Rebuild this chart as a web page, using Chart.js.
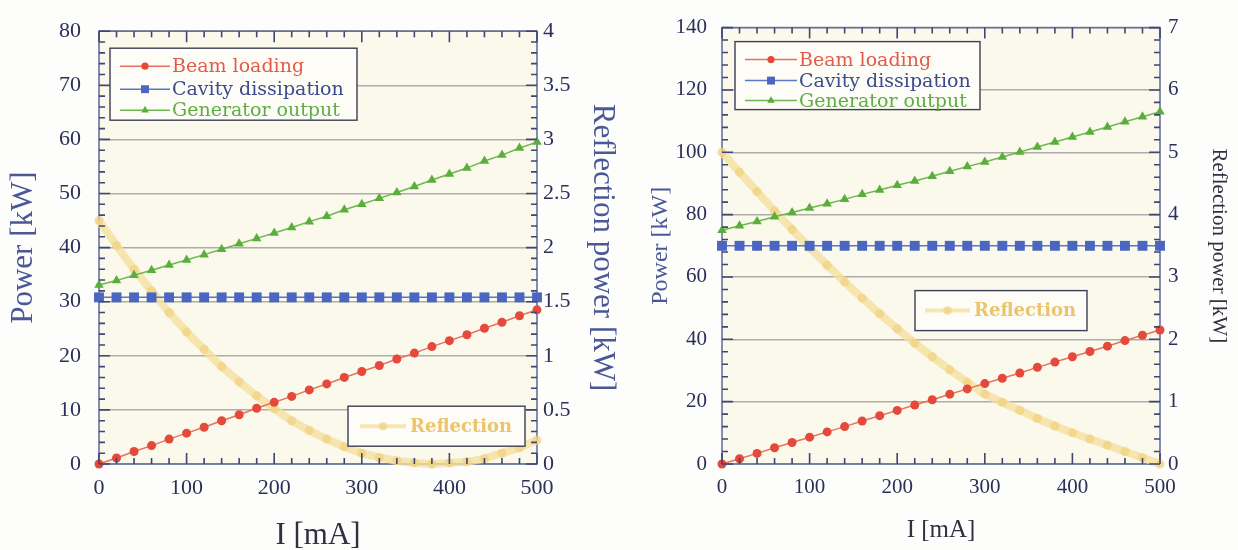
<!DOCTYPE html>
<html><head><meta charset="utf-8">
<script src="https://cdn.jsdelivr.net/npm/chart.js@4.4.1/dist/chart.umd.min.js"></script>
<style>
html,body{margin:0;padding:0;background:#fdfdfc;}
#wrap{position:relative;width:1238px;height:550px;overflow:hidden;}
#c1{position:absolute;left:0;top:0;}
#c2{position:absolute;left:640px;top:0;}
</style></head><body>
<div id="wrap"><canvas id="c1" width="640" height="550"></canvas><canvas id="c2" width="598" height="550"></canvas></div>
<script>
// ---- data ----
const current = [0,20,40,60,80,100,120,140,160,180,200,220,240,260,280,300,320,340,360,380,400,420,440,460,480,500];

// left panel
const beamLoadingL = [0,1.1,2.3,3.4,4.6,5.7,6.8,8.0,9.1,10.3,11.4,12.5,13.7,14.8,16.0,17.1,18.2,19.4,20.5,21.7,22.8,23.9,25.1,26.2,27.4,28.5];
const cavityL = [30.8,30.8,30.8,30.8,30.8,30.8,30.8,30.8,30.8,30.8,30.8,30.8,30.8,30.8,30.8,30.8,30.8,30.8,30.8,30.8,30.8,30.8,30.8,30.8,30.8,30.8];
const generatorL = [33.1,33.9,34.9,35.8,36.8,37.7,38.7,39.7,40.7,41.7,42.7,43.7,44.8,45.8,47.0,48.0,49.1,50.2,51.3,52.5,53.6,54.7,56.0,57.1,58.4,59.5];
const reflectionL = [2.25,2.02,1.80,1.60,1.40,1.22,1.06,0.90,0.76,0.63,0.51,0.40,0.31,0.23,0.16,0.10,0.06,0.03,0.01,0.00,0.01,0.02,0.05,0.10,0.15,0.22];

// right panel
const beamLoadingR = [0,1.7,3.4,5.2,6.9,8.6,10.3,12.0,13.8,15.5,17.2,18.9,20.6,22.4,24.1,25.8,27.5,29.2,31.0,32.7,34.4,36.1,37.8,39.6,41.3,43.0];
const cavityR = [70,70,70,70,70,70,70,70,70,70,70,70,70,70,70,70,70,70,70,70,70,70,70,70,70,70];
const generatorR = [75.0,76.4,77.8,79.3,80.7,82.1,83.5,84.9,86.5,87.9,89.4,90.8,92.3,93.9,95.4,96.9,98.5,100.1,101.7,103.3,104.9,106.5,108.1,109.8,111.4,113.0];
const reflectionR = [5.00,4.68,4.37,4.06,3.76,3.47,3.19,2.92,2.66,2.41,2.17,1.94,1.72,1.51,1.31,1.12,0.99,0.86,0.73,0.61,0.50,0.40,0.30,0.20,0.10,0.00];

const seriesNames = ['Beam loading','Cavity dissipation','Generator output','Reflection'];
const axisTitles = {power:'Power [kW]', refl:'Reflection power [kW]', current:'I [mA]'};

// ---- helpers ----
const SERIF = "'Liberation Serif', 'Times New Roman', serif";
const LEG = "'DejaVu Serif', serif";
const pts = (ys) => current.map((x,i)=>({x:x, y:ys[i]}));
const plainNum = (v) => String(Math.round(v*100)/100);

function drawMarker(ctx, style, r, x, y, color){
  ctx.save(); ctx.fillStyle = color; ctx.beginPath();
  if (style === 'rect'){ const s = r*Math.SQRT1_2; ctx.rect(x-s,y-s,2*s,2*s); }
  else if (style === 'triangle'){
    ctx.moveTo(x, y-r); ctx.lineTo(x+r*0.866, y+r*0.5); ctx.lineTo(x-r*0.866, y+r*0.5); ctx.closePath();
  } else { ctx.arc(x,y,r,0,Math.PI*2); }
  ctx.fill(); ctx.restore();
}

function drawInnerTicks(chart, cfg){
  const ctx = chart.ctx, a = chart.chartArea, sx = chart.scales.x, sy = chart.scales.y, sy2 = chart.scales.y2;
  ctx.save();
  ctx.strokeStyle = '#3d4675';
  ctx.lineWidth = 1.6;
  ctx.beginPath();
  // x axis: bottom and top edges
  for (let i = 0; i <= 25; i++) {
    const p = sx.getPixelForValue(i * 20);
    const len = (i % 5 === 0) ? 11 : 6;
    ctx.moveTo(p, a.bottom); ctx.lineTo(p, a.bottom - len);
    ctx.moveTo(p, a.top); ctx.lineTo(p, a.top + len);
  }
  // left y
  const nY = Math.round(cfg.yMax / cfg.yMinor);
  for (let i = 0; i <= nY; i++) {
    const p = sy.getPixelForValue(i * cfg.yMinor);
    const len = (i % 5 === 0) ? 11 : 6;
    ctx.moveTo(a.left, p); ctx.lineTo(a.left + len, p);
  }
  // right y2
  const nY2 = Math.round(cfg.y2Max / cfg.y2Minor);
  for (let i = 0; i <= nY2; i++) {
    const p = sy2.getPixelForValue(i * cfg.y2Minor);
    const len = (i % 5 === 0) ? 11 : 6;
    ctx.moveTo(a.right, p); ctx.lineTo(a.right - len, p);
  }
  ctx.stroke();
  ctx.restore();
}

function makeDecor(cfg){
  const PLOT_BG = '#fbf9ec', FRAME = '#66729e';
  return {
    id:'panelDecor',
    beforeDraw(chart){
      const {ctx, chartArea:a} = chart;
      ctx.save(); ctx.fillStyle = PLOT_BG;
      ctx.fillRect(a.left, a.top, a.right-a.left, a.bottom-a.top); ctx.restore();
    },
    beforeDatasetsDraw(chart){
      const {ctx, chartArea:a} = chart;
      ctx.save();
      ctx.strokeStyle = FRAME; ctx.lineWidth = 1.6;
      ctx.strokeRect(a.left, a.top, a.right-a.left, a.bottom-a.top);
      ctx.restore();
    },
    afterDatasetsDraw(chart){
      const {ctx, chartArea:a} = chart;
      drawInnerTicks(chart, cfg);
      for(const b of cfg.boxes){
        const bx = a.left + b.x, by = a.top + b.y;
        ctx.save();
        ctx.fillStyle = b.fill; ctx.fillRect(bx,by,b.w,b.h);
        ctx.strokeStyle = b.border; ctx.lineWidth = 1.4; ctx.strokeRect(bx,by,b.w,b.h);
        b.items.forEach(it=>{
          const ds = chart.data.datasets[it.ds];
          const cy = by + it.dy;
          ctx.strokeStyle = ds.borderColor; ctx.lineWidth = Math.min(ds.borderWidth, b.lineW||ds.borderWidth);
          ctx.beginPath(); ctx.moveTo(bx+b.l1, cy); ctx.lineTo(bx+b.l2, cy); ctx.stroke();
          drawMarker(ctx, ds.pointStyle, ds.pointRadius*(b.mk||0.8), bx+(b.l1+b.l2)/2, cy, ds.pointBackgroundColor);
          ctx.font = b.font; ctx.fillStyle = it.color; ctx.textBaseline = 'middle'; ctx.textAlign = 'left';
          ctx.fillText(ds.label, bx+b.tx, cy+1);
        });
        ctx.restore();
      }
    }
  };
}

function makeDatasets(beam, cav, gen, refl){
  return [
    {label:seriesNames[0], data:pts(beam), yAxisID:'y', borderColor:'#e8725f', borderWidth:1.5,
     pointStyle:'circle', pointRadius:4.5, pointBackgroundColor:'#e4493b', pointBorderWidth:0, clip:false, order:1},
    {label:seriesNames[1], data:pts(cav), yAxisID:'y', borderColor:'#5b76c6', borderWidth:1.5,
     pointStyle:'rect', pointRadius:7, pointBackgroundColor:'#4a66c0', pointBorderWidth:0, clip:false, order:2},
    {label:seriesNames[2], data:pts(gen), yAxisID:'y', borderColor:'#6cb84e', borderWidth:1.5,
     pointStyle:'triangle', pointRadius:5.5, pointBackgroundColor:'#5aae3c', pointBorderWidth:0, clip:false, order:3},
    {label:seriesNames[3], data:pts(refl), yAxisID:'y2', borderColor:'rgba(245,224,160,0.8)', borderWidth:8,
     pointStyle:'circle', pointRadius:4.5, pointBackgroundColor:'rgba(240,210,130,0.75)', pointBorderWidth:0, clip:false, order:10}
  ];
}

function makeChart(id, cfg){
  return new Chart(document.getElementById(id), {
    type:'line',
    data:{datasets: makeDatasets(...cfg.series)},
    plugins:[makeDecor(cfg)],
    options:{
      responsive:false, animation:false, devicePixelRatio:1,
      layout:{padding:{top:cfg.top, left:0, right:0, bottom:0}},
      elements:{line:{tension:0}},
      plugins:{legend:{display:false}, tooltip:{enabled:false}},
      scales:{
        x:{type:'linear', min:0, max:500, position:'bottom',
           ticks:{stepSize:100, color:'#2c3058', font:{family:SERIF, size:cfg.tickSize}, padding:cfg.xTickPad, maxRotation:0, callback:plainNum},
           grid:{display:false, drawTicks:false}, border:{display:false},
           title:{display:true, text:axisTitles.current, color:'#2f3040', font:{family:SERIF, size:cfg.xTitleSize}, padding:{top:0,bottom:cfg.xTitlePad}},
           afterFit:(s)=>{s.height = cfg.xH;}},
        y:{type:'linear', position:'left', min:0, max:cfg.yMax,
           ticks:{stepSize:cfg.yStep, color:'#2c3058', font:{family:SERIF, size:cfg.tickSize}, padding:cfg.yTickPad, callback:plainNum},
           grid:{color:'#adadaa', lineWidth:1.5, drawTicks:false}, border:{display:false},
           title:{display:true, text:axisTitles.power, color:'#4a5896', font:{family:SERIF, size:cfg.yTitleSize}, padding:{top:cfg.yTitlePad,bottom:0}},
           afterFit:(s)=>{s.width = cfg.yW;}},
        y2:{type:'linear', position:'right', min:0, max:cfg.y2Max,
           ticks:{stepSize:cfg.y2Step, color:'#2c3058', font:{family:SERIF, size:cfg.tickSize}, padding:cfg.y2TickPad, callback:plainNum},
           grid:{display:false, drawTicks:false}, border:{display:false},
           title:{display:true, text:axisTitles.refl, color:cfg.y2TitleColor, font:{family:SERIF, size:cfg.y2TitleSize}, padding:{top:cfg.y2TitlePad,bottom:0}},
           afterFit:(s)=>{s.width = cfg.y2W;}}
      }
    }
  });
}

makeChart('c1', {
  series:[beamLoadingL, cavityL, generatorL, reflectionL],
  top:25, yMax:80, yStep:10, y2Max:4, y2Step:0.5, yMinor:2, y2Minor:0.1,
  tickSize:22, xTickPad:11, yTickPad:18, y2TickPad:6,
  xTitleSize:31, xTitlePad:-4, yTitleSize:31, yTitlePad:5, y2TitleSize:31, y2TitlePad:19, y2TitleColor:'#4a5896',
  xH:86, yW:99, y2W:103,
  boxes:[
    {x:11, y:17, w:247, h:72, fill:'#fdfcf6', border:'#3c3f55', l1:10, l2:60, tx:62, font:'19px '+LEG,
     items:[{ds:0, dy:18, color:'#e25b4a'},{ds:1, dy:41, color:'#3b4b8c'},{ds:2, dy:62, color:'#5fae45'}]},
    {x:249, y:375, w:177, h:40, fill:'#fdfcf6', border:'#3c3f55', l1:12, l2:58, tx:62, lineW:4, mk:0.9, font:'bold 18px '+LEG,
     items:[{ds:3, dy:20, color:'#ebc46c'}]}
  ]
});

makeChart('c2', {
  series:[beamLoadingR, cavityR, generatorR, reflectionR],
  top:27, yMax:140, yStep:20, y2Max:7, y2Step:1, yMinor:4, y2Minor:0.2,
  tickSize:21, xTickPad:11, yTickPad:15, y2TickPad:8,
  xTitleSize:25, xTitlePad:5, yTitleSize:24, yTitlePad:6, y2TitleSize:21, y2TitlePad:7, y2TitleColor:'#2f3040',
  xH:86, yW:82, y2W:78,
  boxes:[
    {x:13, y:14, w:245, h:68, fill:'#fdfcf6', border:'#3c3f55', l1:10, l2:62, tx:64, font:'19px '+LEG,
     items:[{ds:0, dy:18, color:'#e25b4a'},{ds:1, dy:39, color:'#3b4b8c'},{ds:2, dy:59, color:'#5fae45'}]},
    {x:193, y:263, w:172, h:40, fill:'#fdfcf6', border:'#3c3f55', l1:10, l2:55, tx:59, lineW:4, mk:0.9, font:'bold 18px '+LEG,
     items:[{ds:3, dy:20, color:'#ebc46c'}]}
  ]
});
</script>
</body></html>
